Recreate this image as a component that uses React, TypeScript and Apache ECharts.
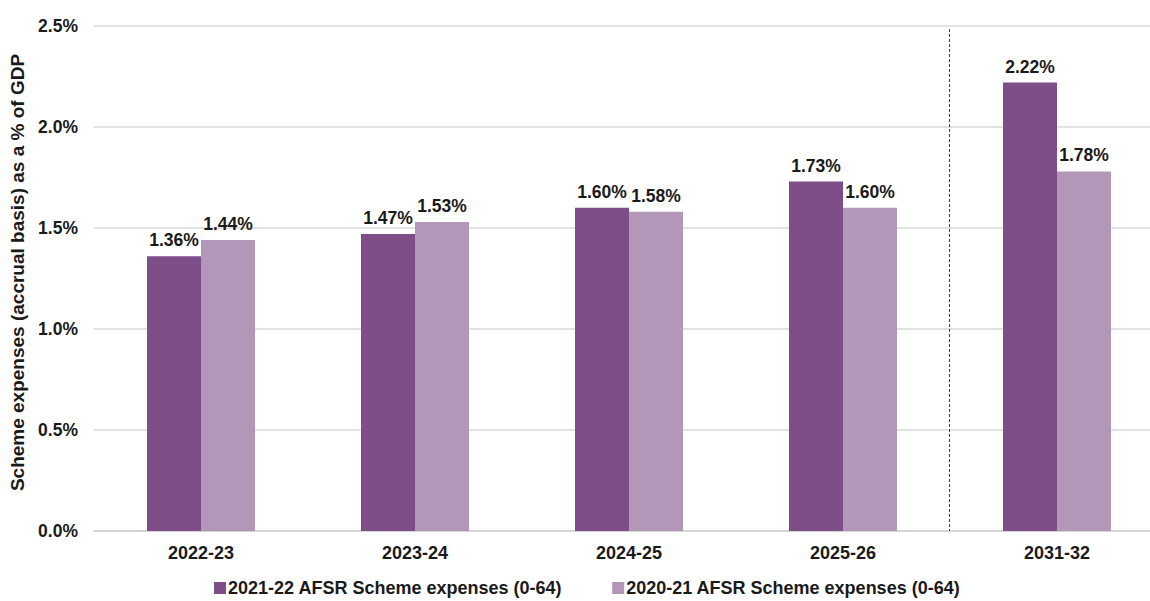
import React, { useEffect, useRef } from "react";
import * as echarts from "echarts";

const categories = ["2022-23", "2023-24", "2024-25", "2025-26", "2031-32"];
const series2122 = [1.36, 1.47, 1.6, 1.73, 2.22];
const series2021 = [1.44, 1.53, 1.58, 1.6, 1.78];
const seriesNames = [
  "2021-22 AFSR Scheme expenses (0-64)",
  "2020-21 AFSR Scheme expenses (0-64)",
];
const yTicks = [0, 0.5, 1.0, 1.5, 2.0, 2.5];
const dividerAfterIndex = 3;

const FONT = "Arial, 'Liberation Sans', sans-serif";

export default function App() {
  const ref = useRef<HTMLDivElement>(null);
  useEffect(() => {
    if (!ref.current) return;
    const chart = echarts.init(ref.current, undefined, { renderer: "svg" });
    const labelStyle = {
      show: true,
      position: "top" as const,
      distance: 7,
      color: "#1a1a1a",
      fontWeight: "bold" as const,
      fontSize: 17.5,
      fontFamily: FONT,
      formatter: (p: any) => p.value.toFixed(2) + "%",
    };
    chart.setOption({
      animation: false,
      textStyle: { fontFamily: FONT },
      grid: {
        left: 94,
        top: 26,
        width: 1070,
        height: 505,
        outerBoundsMode: "none",
        containLabel: false,
      },
      legend: {
        left: 214,
        top: 579,
        padding: 0,
        itemWidth: 12,
        itemHeight: 12,
        itemGap: 50,
        icon: "rect",
        textStyle: {
          fontSize: 18,
          lineHeight: 18,
          fontWeight: "bold",
          color: "#1a1a1a",
          fontFamily: FONT,
          padding: [0, 0, 0, -3],
        },
        data: seriesNames,
      },
      xAxis: {
        type: "category",
        data: categories,
        axisTick: { show: false },
        axisLine: { lineStyle: { color: "#d0d0d0", width: 1.5 } },
        axisLabel: {
          color: "#1a1a1a",
          fontWeight: "bold",
          fontSize: 18,
          margin: 13,
          fontFamily: FONT,
        },
      },
      yAxis: {
        type: "value",
        min: yTicks[0],
        max: yTicks[yTicks.length - 1],
        interval: 0.5,
        name: "Scheme expenses (accrual basis) as a % of GDP",
        nameLocation: "middle",
        nameGap: 58,
        nameTextStyle: {
          fontSize: 19,
          fontWeight: "bold",
          color: "#1a1a1a",
          fontFamily: FONT,
          padding: [0, 0, 0, 12],
        },
        axisLabel: {
          color: "#1a1a1a",
          fontWeight: "bold",
          fontSize: 17.5,
          margin: 16,
          fontFamily: FONT,
          formatter: (v: number) => v.toFixed(1) + "%",
        },
        splitLine: { lineStyle: { color: "#d9d9d9", width: 1.5 } },
        axisLine: { show: false },
        axisTick: { show: false },
      },
      series: [
        {
          name: seriesNames[0],
          type: "bar",
          data: series2122,
          barWidth: 54,
          barGap: "0%",
          itemStyle: { color: "#7D4E88" },
          label: labelStyle,
        },
        {
          name: seriesNames[1],
          type: "bar",
          data: series2021,
          barWidth: 54,
          barGap: "0%",
          itemStyle: { color: "#B297B8" },
          label: labelStyle,
        },
      ],
    });
    const a = chart.convertToPixel({ xAxisIndex: 0 }, dividerAfterIndex) as number;
    const b = chart.convertToPixel({ xAxisIndex: 0 }, dividerAfterIndex + 1) as number;
    const yTop = chart.convertToPixel({ yAxisIndex: 0 }, yTicks[yTicks.length - 1]) as number;
    const yBot = chart.convertToPixel({ yAxisIndex: 0 }, yTicks[0]) as number;
    const xm = Math.round((a + b) / 2) - 0.5;
    chart.setOption({
      graphic: [
        {
          type: "line",
          shape: { x1: xm, y1: yTop + 3, x2: xm, y2: yBot },
          style: { stroke: "#444", lineWidth: 1, lineDash: [3, 2] },
          z: 10,
        },
      ],
    });
    return () => chart.dispose();
  }, []);
  return <div ref={ref} style={{ width: 1150, height: 601, position: "absolute", left: 0, top: 0 }} />;
}
